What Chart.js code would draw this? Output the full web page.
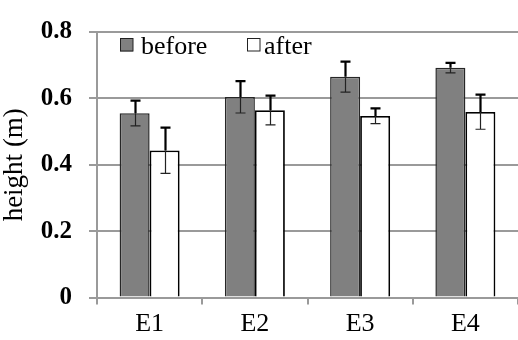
<!DOCTYPE html>
<html>
<head>
<meta charset="utf-8">
<script src="https://cdn.jsdelivr.net/npm/chart.js@4/dist/chart.umd.min.js"></script>
<style>
  html, body { margin: 0; padding: 0; background: #fff; }
  #wrap { width: 518px; height: 340px; }
</style>
</head>
<body>
<div id="wrap"><canvas id="c" width="518" height="340"></canvas></div>
<script>
// Plant height per plot, measured before and after treatment
const categories = ['E1', 'E2', 'E3', 'E4'];
const beforeValues = [0.555, 0.604, 0.665, 0.692];
const beforeErrors = [0.038, 0.048, 0.046, 0.015];
const afterValues = [0.443, 0.564, 0.547, 0.559];
const afterErrors = [0.069, 0.044, 0.023, 0.052];
const seriesNames = ['before', 'after'];
const yTicks = [0, 0.2, 0.4, 0.6, 0.8];

const SERIF = "'Liberation Serif', 'Times New Roman', serif";
const AXIS_GREY = '#9a9a9a';

// Error bars: heavy upper whisker, thin lower whisker, like the usual spreadsheet look
const errorBarPlugin = {
  id: 'errorBars',
  afterDatasetsDraw(chart) {
    const ctx = chart.ctx;
    const y = chart.scales.y;
    chart.data.datasets.forEach((ds, di) => {
      const meta = chart.getDatasetMeta(di);
      meta.data.forEach((bar, i) => {
        const v = ds.data[i];
        const e = ds.errors[i];
        const x = Math.round(bar.x) + 0.5;
        const yTop = y.getPixelForValue(v + e);
        const yMid = y.getPixelForValue(v);
        const yBot = y.getPixelForValue(v - e);
        const cap = 5;
        ctx.save();
        ctx.strokeStyle = '#000';
        ctx.lineWidth = 2.2;
        ctx.beginPath();
        ctx.moveTo(x, yMid);
        ctx.lineTo(x, yTop);
        ctx.moveTo(x - cap, yTop);
        ctx.lineTo(x + cap, yTop);
        ctx.stroke();
        ctx.lineWidth = 1.2;
        ctx.strokeStyle = '#222';
        ctx.beginPath();
        ctx.moveTo(x, yMid);
        ctx.lineTo(x, yBot);
        ctx.moveTo(x - cap, yBot);
        ctx.lineTo(x + cap, yBot);
        ctx.stroke();
        ctx.restore();
      });
    });
  }
};

// Legend drawn inside the plot, top-left
const insideLegendPlugin = {
  id: 'insideLegend',
  afterDraw(chart) {
    const ctx = chart.ctx;
    const items = [
      { box: 120, text: 141 },
      { box: 247, text: 264 }
    ];
    ctx.save();
    ctx.font = '26px ' + SERIF;
    ctx.textBaseline = 'alphabetic';
    ctx.textAlign = 'left';
    chart.data.datasets.forEach((ds, i) => {
      const it = items[i];
      ctx.fillStyle = ds.backgroundColor;
      ctx.fillRect(it.box, 38.5, 13, 13);
      ctx.strokeStyle = '#222';
      ctx.lineWidth = 1;
      ctx.strokeRect(it.box + 0.5, 38.5, 12.5, 12.5);
      ctx.fillStyle = '#000';
      ctx.fillText(ds.label, it.text, 53.5);
    });
    ctx.restore();
  }
};

new Chart(document.getElementById('c'), {
  type: 'bar',
  data: {
    labels: categories,
    datasets: [
      {
        label: seriesNames[0],
        data: beforeValues,
        errors: beforeErrors,
        backgroundColor: '#808080',
        borderColor: '#262626',
        borderWidth: 1.5,
        categoryPercentage: 0.57,
        barPercentage: 1.0
      },
      {
        label: seriesNames[1],
        data: afterValues,
        errors: afterErrors,
        backgroundColor: '#ffffff',
        borderColor: '#000000',
        borderWidth: 1.8,
        categoryPercentage: 0.57,
        barPercentage: 1.0
      }
    ]
  },
  options: {
    responsive: false,
    animation: false,
    layout: { padding: { top: 15, right: 0, left: 0, bottom: 0 } },
    plugins: {
      legend: { display: false },
      tooltip: { enabled: false }
    },
    scales: {
      x: {
        afterFit(scale) { scale.height = 42.5; },
        grid: {
          display: true,
          drawOnChartArea: false,
          drawTicks: true,
          tickLength: 7,
          color: AXIS_GREY,
          lineWidth: 2,
          offset: true
        },
        border: { display: true, color: AXIS_GREY, width: 2 },
        ticks: {
          color: '#000',
          padding: 4,
          font: { family: SERIF, size: 26 }
        }
      },
      y: {
        min: 0,
        max: 0.8,
        afterFit(scale) { scale.width = 97; },
        afterBuildTicks(scale) { scale.ticks = yTicks.map(v => ({ value: v })); },
        grid: {
          color: AXIS_GREY,
          lineWidth: 2,
          tickLength: 8,
          drawTicks: true
        },
        border: { display: true, color: AXIS_GREY, width: 2 },
        ticks: {
          color: '#000',
          padding: 17,
          font: { family: SERIF, size: 25, weight: 'bold' },
          callback: (v) => String(v)
        },
        title: {
          display: true,
          text: 'height (m)',
          color: '#000',
          padding: { top: 0, bottom: 0 },
          font: { family: SERIF, size: 27, lineHeight: 1.1 }
        }
      }
    }
  },
  plugins: [errorBarPlugin, insideLegendPlugin]
});
</script>
</body>
</html>
